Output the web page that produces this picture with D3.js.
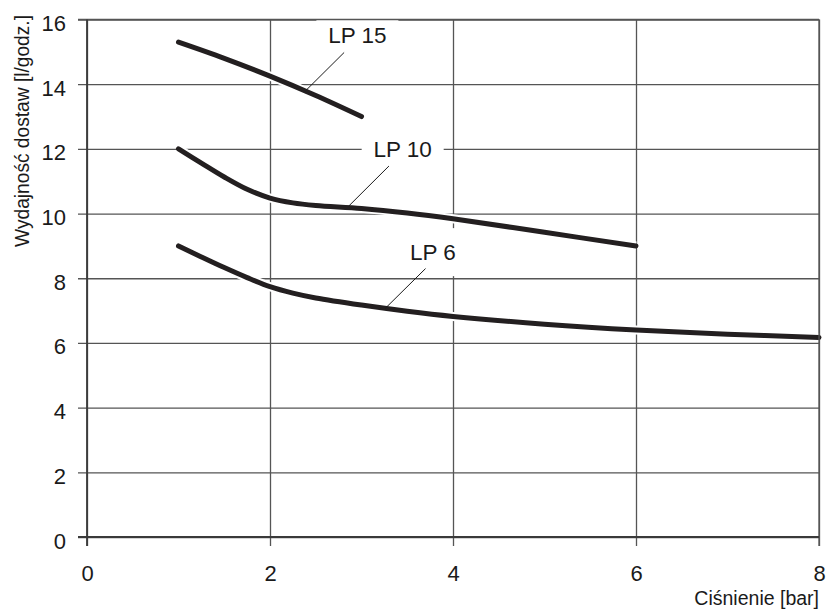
<!DOCTYPE html>
<html>
<head>
<meta charset="utf-8">
<script src="https://cdn.jsdelivr.net/npm/d3@7"></script>
<style>
  body { margin: 0; background: #fff; }
  svg text { font-family: "Liberation Sans", Arial, sans-serif; fill: #1a1a1a; }
  .title { font-family: "Liberation Sans Narrow", "Liberation Sans", Arial, sans-serif; }
</style>
</head>
<body>
<div id="graphic"></div>
<script>
// pressure [bar] vs. delivery [l/h]
var xTicks = [0, 2, 4, 6, 8];
var yTicks = [0, 2, 4, 6, 8, 10, 12, 14, 16];

var lp15X = [1, 1.5, 2, 2.5, 3];
var lp15Y = [15.3, 14.8, 14.25, 13.65, 13.0];

var lp10X = [1, 1.25, 1.5, 1.75, 2, 2.25, 2.5, 3, 3.5, 4, 5, 6];
var lp10Y = [12.0, 11.56, 11.13, 10.75, 10.48, 10.33, 10.25, 10.16, 10.02, 9.84, 9.42, 9.0];

var lp6X = [1, 1.25, 1.5, 1.75, 2, 2.25, 2.5, 3, 3.5, 4, 5, 6, 7, 8];
var lp6Y = [9.0, 8.66, 8.33, 8.02, 7.74, 7.54, 7.39, 7.17, 6.98, 6.82, 6.58, 6.40, 6.27, 6.17];

// label name, text centre x/baseline y, pointer line from -> to (data units)
var labelNames = ['LP 15', 'LP 10', 'LP 6'];
var labelX = [2.955, 3.45, 3.78];
var labelY = [15.27, 11.75, 8.56];
var pointerFrom = [[2.81, 14.98], [3.30, 11.47], [3.70, 8.30]];
var pointerTo = [[2.39, 13.80], [2.86, 10.23], [3.26, 7.07]];

var W = 826, H = 612;
var x = d3.scaleLinear().domain([0, 8]).range([87, 819]);
var y = d3.scaleLinear().domain([0, 16]).range([537, 19.5]);
var tickOut = 9;

var svg = d3.select('#graphic').append('svg')
    .attr('width', W)
    .attr('height', H);

// horizontal grid + y labels
var yAxis = svg.append('g')
    .attr('transform', 'translate(' + x(8) + ',0)')
    .call(d3.axisLeft(y)
      .tickValues(yTicks)
      .tickSize(x(8) - x(0) + tickOut)
      .tickPadding(12)
      .tickFormat(d3.format('d')));
yAxis.select('.domain').remove();
yAxis.selectAll('line').attr('stroke', '#555').attr('stroke-width', 1.3);
yAxis.selectAll('text')
    .attr('font-size', 22)
    .attr('dy', '0.5em')
    .attr('fill', '#1a1a1a');

// vertical grid + x labels
var xAxis = svg.append('g')
    .attr('transform', 'translate(0,' + y(16) + ')')
    .call(d3.axisBottom(x)
      .tickValues(xTicks)
      .tickSize(y(0) - y(16) + tickOut)
      .tickPadding(19)
      .tickFormat(d3.format('d')));
xAxis.select('.domain').remove();
xAxis.selectAll('line').attr('stroke', '#555').attr('stroke-width', 1.3);
xAxis.selectAll('text')
    .attr('font-size', 22)
    .attr('fill', '#1a1a1a');

// curves
var line = d3.line()
    .x(function(d) { return x(d[0]); })
    .y(function(d) { return y(d[1]); })
    .curve(d3.curveCatmullRom.alpha(0.5));

var series = [d3.zip(lp15X, lp15Y), d3.zip(lp10X, lp10Y), d3.zip(lp6X, lp6Y)];

svg.append('g').selectAll('path')
    .data(series)
    .enter().append('path')
    .attr('fill', 'none')
    .attr('stroke', '#fff')
    .attr('stroke-width', 9)
    .attr('d', line);

svg.append('g').selectAll('path')
    .data(series)
    .enter().append('path')
    .attr('fill', 'none')
    .attr('stroke', '#231f20')
    .attr('stroke-width', 5)
    .attr('stroke-linecap', 'round')
    .attr('d', line);

// series labels with white boxes
var labels = svg.append('g').selectAll('g')
    .data(labelNames)
    .enter().append('g');

labels.append('rect')
    .attr('x', function(d, i) { return x(labelX[i]) - 41; })
    .attr('y', function(d, i) { return y(labelY[i]) - 32; })
    .attr('width', 82)
    .attr('height', 48)
    .attr('fill', '#fff');

labels.append('text')
    .attr('x', function(d, i) { return x(labelX[i]); })
    .attr('y', function(d, i) { return y(labelY[i]); })
    .attr('text-anchor', 'middle')
    .attr('font-size', 22.5)
    .text(function(d) { return d; });

labels.append('line')
    .attr('x1', function(d, i) { return x(pointerFrom[i][0]); })
    .attr('y1', function(d, i) { return y(pointerFrom[i][1]); })
    .attr('x2', function(d, i) { return x(pointerTo[i][0]); })
    .attr('y2', function(d, i) { return y(pointerTo[i][1]); })
    .attr('stroke', '#1a1a1a')
    .attr('stroke-width', 1);

// frame: axes and top/right border on top of label boxes
svg.append('line')
    .attr('x1', x(0) - tickOut).attr('x2', x(8))
    .attr('y1', y(16)).attr('y2', y(16))
    .attr('stroke', '#555').attr('stroke-width', 1.3);
svg.append('line')
    .attr('x1', x(8)).attr('x2', x(8))
    .attr('y1', y(16)).attr('y2', y(0) + tickOut)
    .attr('stroke', '#555').attr('stroke-width', 1.3);
svg.append('line')
    .attr('x1', x(0)).attr('x2', x(0))
    .attr('y1', y(16)).attr('y2', y(0) + tickOut)
    .attr('stroke', '#3a3a3a').attr('stroke-width', 1.8);
svg.append('line')
    .attr('x1', x(0) - tickOut).attr('x2', x(8))
    .attr('y1', y(0)).attr('y2', y(0))
    .attr('stroke', '#3a3a3a').attr('stroke-width', 1.8);

// axis titles
svg.append('text')
    .attr('class', 'title')
    .attr('transform', 'translate(29,247) rotate(-90)')
    .attr('font-size', 20)
    .attr('textLength', 232)
    .attr('lengthAdjust', 'spacingAndGlyphs')
    .text('Wydajność dostaw [l/godz.]');

svg.append('text')
    .attr('class', 'title')
    .attr('x', 819)
    .attr('y', 605)
    .attr('text-anchor', 'end')
    .attr('font-size', 19.5)
    .text('Ciśnienie [bar]');
</script>
</body>
</html>
